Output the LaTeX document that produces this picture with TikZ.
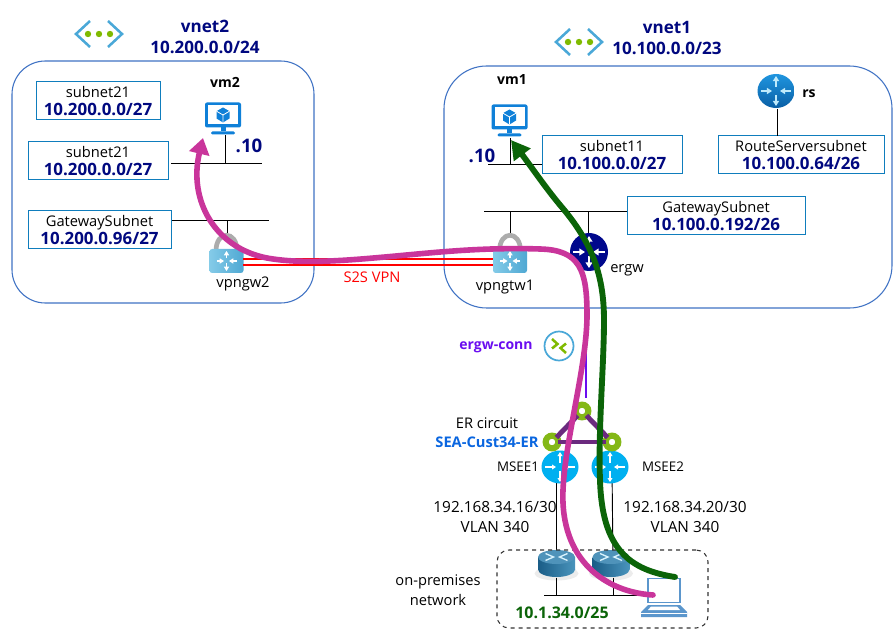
\documentclass[tikz,border=0pt]{standalone}
\usepackage{fontspec}
\setmainfont{Open Sans}
\usetikzlibrary{arrows.meta,shapes.geometric}
\definecolor{navyt}{HTML}{00087F}
\definecolor{boxb}{HTML}{0F7DBD}
\definecolor{vnetb}{HTML}{3F72C4}
\definecolor{magpath}{HTML}{C9359B}
\definecolor{grnpath}{HTML}{0B6408}
\definecolor{chev}{HTML}{4AA8D8}
\definecolor{dotg}{HTML}{7FBA00}
\definecolor{mon}{HTML}{0F80D8}
\definecolor{ringg}{HTML}{84B817}
\definecolor{tri}{HTML}{6B2A7E}
\definecolor{msee}{HTML}{00B0F0}
\definecolor{connp}{HTML}{6A0DF0}
\definecolor{erblue}{HTML}{0A66E0}
\definecolor{gtxt}{HTML}{0B6408}
\definecolor{topblue}{HTML}{1F95DF}
\definecolor{botblue}{HTML}{0A5FA5}
\definecolor{gwl}{HTML}{84CBE8}
\definecolor{gwr}{HTML}{4FA8D3}
\definecolor{cyld}{HTML}{1A5D87}
\definecolor{cylm}{HTML}{4A94BC}
\definecolor{cylt}{HTML}{4F93BA}
\definecolor{lapb}{HTML}{5B96CC}
\definecolor{navyrt}{HTML}{00088C}
\newcommand{\rarrows}[4]{%
  \draw[#3,line width=#4*.75pt,-{Triangle[length=#4*2pt,width=#4*2.4pt]}] (0,-#1)--(0,-#2);
  \draw[#3,line width=#4*.75pt,-{Triangle[length=#4*2pt,width=#4*2.4pt]}] (0,#1)--(0,#2);
  \draw[#3,line width=#4*.75pt,-{Triangle[length=#4*2pt,width=#4*2.4pt]}] (-#2,0)--(-#1,0);
  \draw[#3,line width=#4*.75pt,-{Triangle[length=#4*2pt,width=#4*2.4pt]}] (#2,0)--(#1,0);
}
\newcommand{\ipb}[1]{{\fontsize{12.7}{15}\selectfont\bfseries\textcolor{navyt}{#1}}}
\tikzset{
  every node/.style={inner sep=0pt,outer sep=0pt},
  lbl/.style={font=\fontsize{11}{15}\selectfont,align=center,text=black},
  iplbl/.style={font=\fontsize{11.5}{15}\selectfont,align=center,text=black},
  blbl/.style={font=\fontsize{10.5}{13}\selectfont\bfseries,text=black},
  subbox/.style 2 args={draw=boxb,line width=.75pt,fill=white,minimum width=#1*.75pt,minimum height=#2*.75pt,align=center,font=\fontsize{11}{15}\selectfont},
  vnetbox/.style={draw=vnetb,line width=.8pt},
  vtitle/.style={font=\fontsize{12.8}{15.5}\selectfont\bfseries,text=navyt,align=center},
  link/.style={draw=black,line width=.7pt},
  spot/.style 2 args={minimum width=#1*.75pt,minimum height=#2*.75pt},
  ringn/.style={circle,draw=ringg,line width=4.6pt,fill=white,minimum size=9.5pt},
  pathm/.style={draw=magpath,line width=4.2pt,line cap=round},
  pathg/.style={draw=grnpath,line width=4.4pt,line cap=round},
  pics/vneticon/.style={code={
    \draw[chev,line width=1.9pt] (-9,-13)--(-23,0)--(-9,13);
    \draw[chev,line width=1.9pt] (9,-13)--(23,0)--(9,13);
    \foreach \d in {-11,0,11}{\fill[dotg] (\d,0) circle[radius=3.2];}
  }},
  pics/monitor/.style={code={
    \fill[mon,rounded corners=1.5pt] (-18,-16) rectangle (18,9);
    \fill[white] (-15,-13) rectangle (15,5.5);
    \fill[mon] (-2.5,9) rectangle (2.5,13);
    \fill[mon,rounded corners=1pt] (-12,13) rectangle (12,16);
    \fill[mon] (0,-11)--(6.5,-7.3)--(6.5,0)--(0,4)--(-6.5,0)--(-6.5,-7.3)--cycle;
    \draw[white,line width=.6pt] (-6.5,-7.3)--(0,-3.5)--(6.5,-7.3) (0,-3.5)--(0,4);
  }},
  pics/routerc/.style={code={
    \fill[msee] (0,0) ellipse[x radius=18.5,y radius=16.5];
    \rarrows{4}{15}{white}{1.5}
  }},
  pics/routern/.style={code={
    \fill[navyrt] (0,0) circle[radius=19];
    \rarrows{4}{16}{white}{2.1}
  }},
  pics/rsicon/.style={code={
    \shade[top color=topblue,bottom color=botblue] (0,0) ellipse[x radius=18.5,y radius=17];
    \rarrows{4}{15}{cyan!25!white}{1.9}
  }},
  pics/vpnicon/.style={code={
    \draw[gray!65,line width=3.5pt] (-10.5,-10) .. controls (-10.5,-31) and (10.5,-31) .. (10.5,-10);
    \shade[left color=gwl,right color=gwr,rounded corners=2pt] (-17,-12) rectangle (17,12);
    \rarrows{2.5}{10}{white}{1.6}
  }},
  pics/conn/.style={code={
    \draw[chev,line width=1.3pt,fill=white] (0,0) circle[radius=14.5];
    \draw[dotg,line width=1.9pt] (-7,-7)--(-1.5,-2)--(-7,2.5);
    \draw[dotg,line width=1.9pt] (7,-2.5)--(1.5,2)--(7,7);
  }},
  pics/cyl/.style={code={
    \fill[gray!15] (0,10) ellipse[x radius=22,y radius=7];
    \shade[left color=cyld,right color=cylm] (-18.5,-6.5) rectangle (18.5,6);
    \shade[left color=cyld,right color=cylm] (0,6) ellipse[x radius=18.5,y radius=7.5];
    \fill[cylt] (0,-6.5) ellipse[x radius=18.5,y radius=7];
    \draw[white!85!cyan,line width=1pt] (-11,-10)--(-3,-6.5)--(-11,-3) (11,-10)--(3,-6.5)--(11,-3);
  }},
  pics/laptop/.style={code={
    \draw[lapb,line width=1.3pt,fill=white] (-16,5.5)--(-16,-18.5)--(16,-18.5)--(16,5.5)--cycle;
    \fill[lapb] (-16,8)--(16,8)--(23,15)--(23,20)--(-23,20)--(-23,15)--cycle;
    \fill[white] (-13,9.5)--(13,9.5)--(16,13)--(-16,13)--cycle;
    \draw[white,line width=.6pt] (-23,16)--(23,16);
  }},
}
\begin{document}
\begin{tikzpicture}[x=.75pt,y=-.75pt]
\useasboundingbox[fill=white] (0,0) rectangle (895,634);

% VNet containers
\node[vnetbox,spot={302}{242},rounded corners=25pt] (vnet2box) at (163,182) {};
\node[vnetbox,spot={448}{242},rounded corners=32pt] (vnet1box) at (668,187) {};

% titles
\pic at (99,34) {vneticon};
\pic at (579,42) {vneticon};
\node[vtitle] (vnet2t) at (205,37) {vnet2\\10.200.0.0/24};
\node[vtitle] (vnet1t) at (667,38) {vnet1\\10.100.0.0/23};

% buses
\coordinate (bus2a) at (171,163); \coordinate (bus2b) at (262,163);
\coordinate (bus2c) at (171,220); \coordinate (bus2d) at (269,220);
\coordinate (bus1a) at (488,164); \coordinate (bus1b) at (542,164);
\coordinate (bus1c) at (484,211); \coordinate (bus1d) at (627,211);
\coordinate (busop1) at (544,595); \coordinate (busop2) at (650,595);
\draw[link] (bus2a)--(bus2b);
\draw[link] (bus2c)--(bus2d);
\draw[link] (bus1a)--(bus1b);
\draw[link] (bus1c)--(bus1d);

% anchors
\node[spot={30}{33}] (vm2) at (225.5,118.5) {};
\node[spot={30}{34}] (vm1) at (510,121) {};
\node[spot={20}{36}] (rs) at (777.5,91) {};
\node[spot={20}{40}] (gw2) at (227,253) {};
\node[spot={20}{38}] (gw1) at (510,254) {};
\node[spot={10}{38}] (ergw) at (588,254) {};
\node[spot={8}{32}] (msee1) at (556,467) {};
\node[spot={8}{32}] (msee2) at (612,467) {};
\node[spot={10}{27}] (cpe1) at (556,564) {};
\node[spot={10}{27}] (cpe2) at (613,564) {};
\node[spot={4}{90}] (conntop) at (586,353) {};

\draw[link] (vm2.south)--(vm2.south |- bus2a);
\draw[link] (gw2.north)--(gw2.north |- bus2c);
\draw[link] (vm1.south)--(vm1.south |- bus1a);
\draw[link] (gw1.north)--(gw1.north |- bus1c);
\draw[link] (ergw.north)--(ergw.north |- bus1c);
\draw[link] (msee1)--(cpe1);
\draw[link] (msee2)--(cpe2);

% subnet boxes
\node[subbox={124}{38}] (s21a) at (98,101) {subnet21\\[-1pt]\ipb{10.200.0.0/27}};
\node[subbox={140}{38}] (s21b) at (98,161) {subnet21\\[-1pt]\ipb{10.200.0.0/27}};
\node[subbox={143}{38}] (gs2) at (99.5,230) {GatewaySubnet\\[-1pt]\ipb{10.200.0.96/27}};
\node[subbox={140}{38}] (s11) at (612,155) {subnet11\\[-1pt]\ipb{10.100.0.0/27}};
\node[subbox={166}{38}] (rss) at (801,155) {RouteServersubnet\\[-1pt]\ipb{10.100.0.64/26}};
\node[subbox={178}{38}] (gs1) at (716,216) {GatewaySubnet\\[-1pt]\ipb{10.100.0.192/26}};
\draw[link] (rs.south)--(rs.south |- rss.north);

% icons
\pic at (223,118.5) {monitor};
\pic at (509.5,120.5) {monitor};
\pic at (776,91) {rsicon};
\pic at (589,252) {routern};
\pic at (226.5,261) {vpnicon};
\pic at (510,261) {vpnicon};
\pic at (560,467) {routerc};
\pic at (610,467) {routerc};
\pic at (556.5,563.5) {cyl};
\pic at (611,563.5) {cyl};
\draw[link] (busop1)--(busop2);
\draw[link] (cpe1.south)--(cpe1.south |- busop1);
\draw[link] (cpe2.south)--(cpe2.south |- busop1);
\pic at (664,597) {laptop};
\pic at (559,346) {conn};

% VPN tunnel
\coordinate (t2a) at (243,259); \coordinate (t1a) at (493,259);
\coordinate (t2b) at (243,265); \coordinate (t1b) at (493,265);
\draw[red,line width=1pt] (t2a)--(t1a);
\draw[red,line width=1pt] (t2b)--(t1b);

% labels
\node[blbl] (vm2l) at (225,82) {vm2};
\node[blbl] (vm1l) at (512,80) {vm1};
\node[blbl] (rsl) at (809,94) {rs};
\node[font=\fontsize{14}{16}\selectfont\bfseries,text=navyt] (d102) at (249,146) {.10};
\node[font=\fontsize{14}{16}\selectfont\bfseries,text=navyt] (d101) at (482,156) {.10};
\node[lbl] (vpngw2l) at (243,284) {vpngw2};
\node[lbl] (vpngw1l) at (505,287) {vpngtw1};
\node[lbl] (ergwl) at (627,270) {ergw};
\node[lbl,text=red] (s2s) at (372,277) {S2S VPN};
\node[font=\fontsize{10.5}{13}\selectfont\bfseries,text=connp] (connl) at (496,347) {ergw-conn};
\node[lbl] (erl) at (487,423) {ER circuit};
\node[font=\fontsize{11}{13}\selectfont\bfseries,text=erblue] (erc) at (487,442) {SEA-Cust34-ER};
\node[font=\fontsize{10}{12}\selectfont] (m1l) at (518,467) {MSEE1};
\node[font=\fontsize{10}{12}\selectfont] (m2l) at (663,467) {MSEE2};
\node[iplbl] (ip1) at (495,517.5) {192.168.34.16/30\\VLAN 340};
\node[iplbl] (ip2) at (685,517.5) {192.168.34.20/30\\VLAN 340};
\node[lbl] (opl) at (438,590) {on-premises\\network};
\node[font=\fontsize{12}{14}\selectfont\bfseries,text=gtxt] (opnet) at (562,613) {10.1.34.0/25};

% dashed on-prem box
\node[draw=black!80,dashed,line width=.8pt,rounded corners=9pt,spot={211}{78}] (opbox) at (602.5,589) {};

% ER circuit
\node[ringn] (rtop) at (582,411) {};
\node[ringn] (rleft) at (552,442) {};
\node[ringn] (rright) at (612,442) {};
\draw[tri,line width=3.7pt] (rtop)--(rleft);
\draw[tri,line width=3.7pt] (rleft)--(rright);
\draw[tri,line width=3.7pt] (rright)--(rtop);
\draw[connp,line width=1.2pt] (conntop.north)--(conntop.south);

% traffic paths
\coordinate (magstart) at (653,595);
\coordinate (magend) at (203,138);
\coordinate (grnstart) at (675,577);
\coordinate (grnend) at (511,140);
\draw[pathm,-{Triangle[length=12pt,width=15pt]}] (magstart)
  .. controls (605,592) and (560,560) .. (563,490)
  .. controls (565,440) and (587,365) .. (587,315)
  .. controls (587,270) and (580,250) .. (540,249)
  .. controls (480,247) and (430,253) .. (385,257)
  .. controls (340,261) and (300,264) .. (267,258)
  .. controls (215,248) and (188,200) .. (magend);
\draw[pathg,-{Triangle[length=14pt,width=15pt]}] (grnstart)
  .. controls (630,570) and (602,550) .. (600,480)
  .. controls (598,430) and (604,365) .. (604,320)
  .. controls (604,272) and (590,240) .. (560,205)
  .. controls (545,187) and (530,165) .. (grnend);
\end{tikzpicture}
\end{document}
